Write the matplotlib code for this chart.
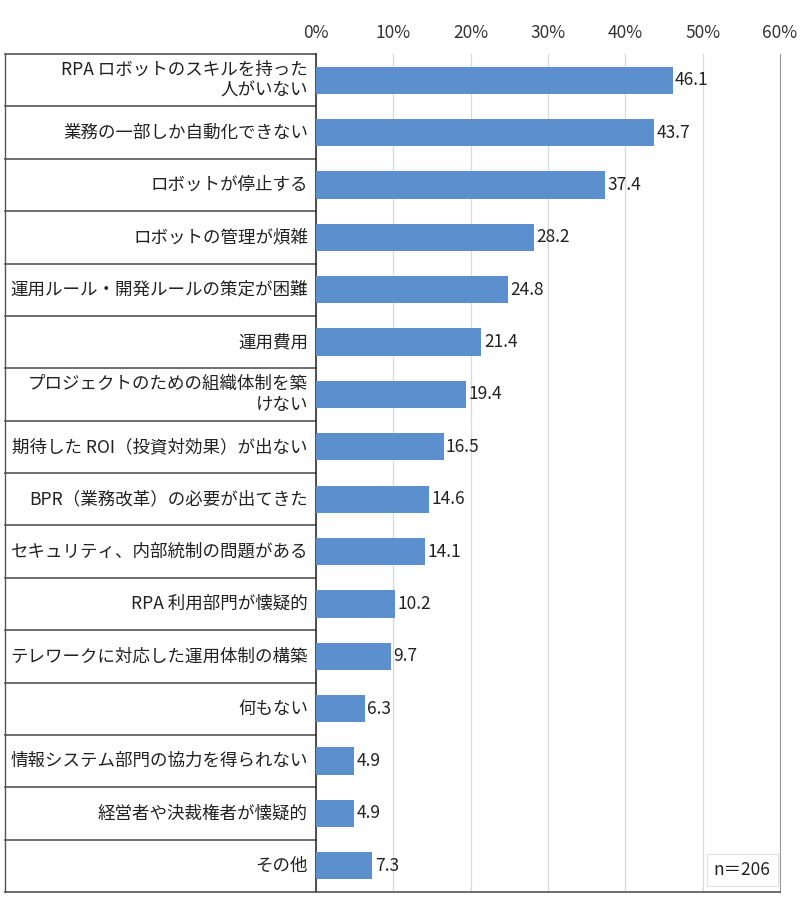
import matplotlib
matplotlib.use('Agg')
import matplotlib.pyplot as plt

plt.rcParams['font.family'] = ['Noto Sans CJK JP', 'DejaVu Sans']

categories = [
    'RPA ロボットのスキルを持った\n人がいない',
    '業務の一部しか自動化できない',
    'ロボットが停止する',
    'ロボットの管理が煩雑',
    '運用ルール・開発ルールの策定が困難',
    '運用費用',
    'プロジェクトのための組織体制を築\nけない',
    '期待した ROI（投資対効果）が出ない',
    'BPR（業務改革）の必要が出てきた',
    'セキュリティ、内部統制の問題がある',
    'RPA 利用部門が懐疑的',
    'テレワークに対応した運用体制の構築',
    '何もない',
    '情報システム部門の協力を得られない',
    '経営者や決裁権者が懐疑的',
    'その他',
]
values = [46.1, 43.7, 37.4, 28.2, 24.8, 21.4, 19.4, 16.5, 14.6, 14.1, 10.2, 9.7, 6.3, 4.9, 4.9, 7.3]
xticks = [0, 10, 20, 30, 40, 50, 60]
note = 'n＝206'

W, H = 800, 907
fig = plt.figure(figsize=(W / 100, H / 100), dpi=100)
left, right, top, bottom = 316, 780, 54, 892
ax = fig.add_axes([left / W, 1 - bottom / H, (right - left) / W, (bottom - top) / H])

n = len(categories)
ypos = list(range(n))
ax.barh(ypos, values, height=0.52, color='#5B8FCD', zorder=3)
ax.set_ylim(n - 0.5, -0.5)
ax.set_xlim(0, 60)

for y, v in zip(ypos, values):
    ax.text(v + 0.3, y, f'{v:.1f}', va='center', ha='left', fontsize=12.5, color='#222222', zorder=4)

ax.xaxis.tick_top()
ax.set_xticks(xticks)
ax.set_xticklabels([f'{t}%' for t in xticks], fontsize=12.5, color='#333333')
ax.tick_params(axis='x', length=0, pad=9)
ax.set_yticks([])
ax.grid(axis='x', color='#d9d9d9', linewidth=0.9, zorder=0)

ax.spines['top'].set_visible(False)
ax.spines['right'].set_color('#9a9a9a')
ax.spines['left'].set_color('#333333')
ax.spines['bottom'].set_color('#555555')
ax.spines['left'].set_linewidth(1.2)
ax.spines['bottom'].set_linewidth(1.2)

# label table on the left
tr = ax.get_yaxis_transform()
x0 = (5 - left) / (right - left)
for b in [i - 0.5 for i in range(n + 1)]:
    ax.plot([x0, 0], [b, b], transform=tr, color='#555555', linewidth=1.2, clip_on=False)
ax.plot([x0, x0], [-0.5, n - 0.5], transform=tr, color='#555555', linewidth=1.0, clip_on=False)

lx = (308 - left) / (right - left)
for y, c in zip(ypos, categories):
    ax.text(lx, y, c, transform=tr, ha='right', va='center', fontsize=12.6,
            color='#222222', linespacing=1.25, multialignment='right')

ax.text(58.8, n - 1 + 0.08, note, ha='right', va='center', fontsize=12.5, color='#222222',
        bbox=dict(boxstyle='square,pad=0.4', facecolor='white', edgecolor='#e0e0e0', linewidth=0.8),
        zorder=5)

fig.savefig('out.png', dpi=100)
